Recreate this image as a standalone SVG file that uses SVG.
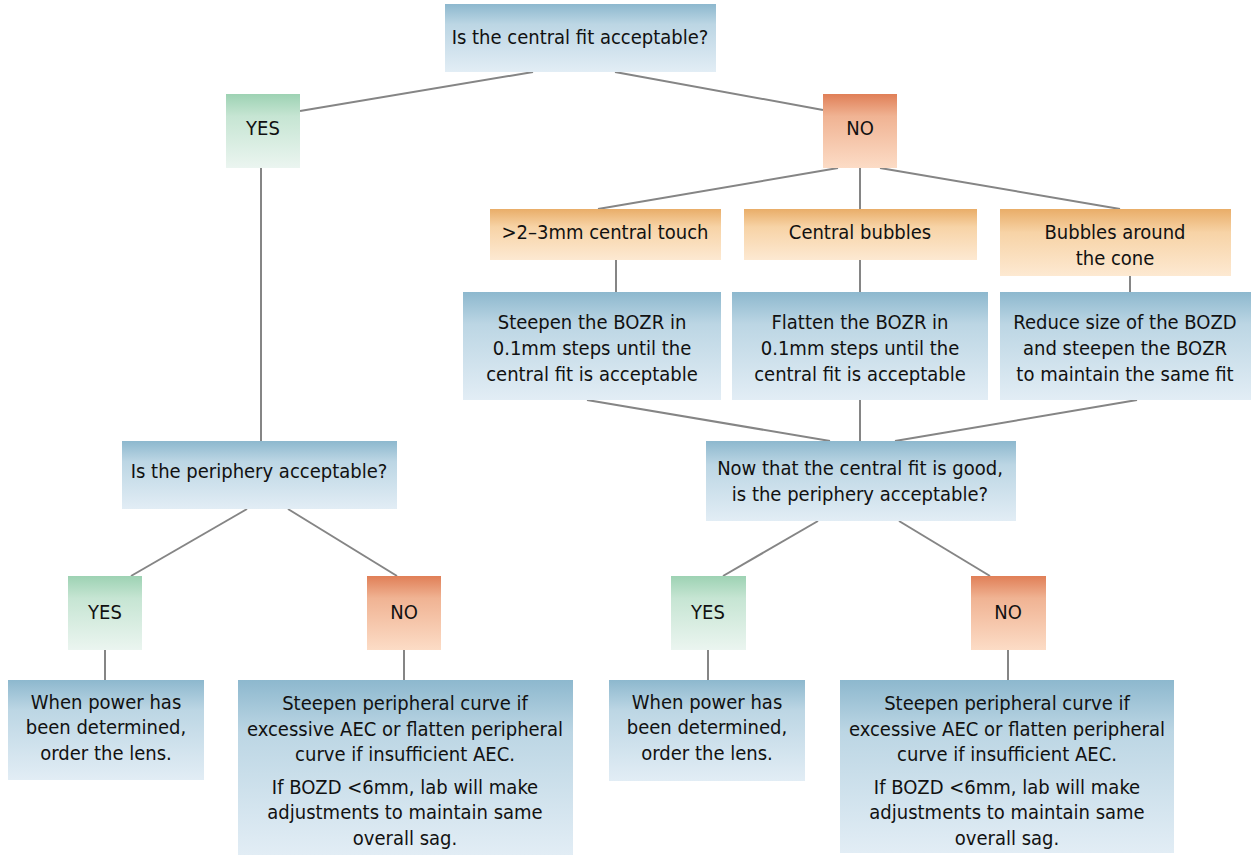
<svg xmlns="http://www.w3.org/2000/svg" width="1251" height="855" viewBox="0 0 1251 855">
<defs>
<linearGradient id="gBlue" x1="0" y1="0" x2="0" y2="1">
<stop offset="0" stop-color="#8db8ce"/><stop offset="0.3" stop-color="#bcd6e4"/><stop offset="1" stop-color="#e2edf5"/>
</linearGradient>
<linearGradient id="gOrange" x1="0" y1="0" x2="0" y2="1">
<stop offset="0" stop-color="#e9ad68"/><stop offset="0.35" stop-color="#f7d3a6"/><stop offset="1" stop-color="#fde9d2"/>
</linearGradient>
<linearGradient id="gRed" x1="0" y1="0" x2="0" y2="1">
<stop offset="0" stop-color="#e07f57"/><stop offset="0.3" stop-color="#f0b393"/><stop offset="1" stop-color="#fcdcc6"/>
</linearGradient>
<linearGradient id="gGreen" x1="0" y1="0" x2="0" y2="1">
<stop offset="0" stop-color="#9dd2b3"/><stop offset="0.3" stop-color="#c6e5d3"/><stop offset="1" stop-color="#ebf5f0"/>
</linearGradient>
</defs>
<style>
text{font-family:"Liberation Sans Narrow","DejaVu Sans Condensed","Arial Narrow",sans-serif;font-size:20px;fill:#111111;text-anchor:middle}
.blue{fill:url(#gBlue)}
.orange{fill:url(#gOrange)}
.red{fill:url(#gRed)}
.green{fill:url(#gGreen)}
#connectors line{stroke:#858585;stroke-width:2}
</style>
<rect width="1251" height="855" fill="#ffffff"/>
<g id="connectors">
<line x1="533" y1="72" x2="300" y2="111"/>
<line x1="615" y1="72" x2="823" y2="110"/>
<line x1="261" y1="168" x2="261" y2="441"/>
<line x1="838" y1="168" x2="598" y2="209"/>
<line x1="860" y1="168" x2="860" y2="209"/>
<line x1="880" y1="168" x2="1120" y2="209"/>
<line x1="616" y1="260" x2="616" y2="292"/>
<line x1="860" y1="260" x2="860" y2="292"/>
<line x1="1130" y1="276" x2="1130" y2="292"/>
<line x1="587" y1="400" x2="830" y2="441"/>
<line x1="860" y1="400" x2="860" y2="441"/>
<line x1="1137" y1="400" x2="895" y2="441"/>
<line x1="818" y1="521" x2="723" y2="576"/>
<line x1="899" y1="521" x2="990" y2="576"/>
<line x1="708" y1="650" x2="708" y2="680"/>
<line x1="1008" y1="650" x2="1008" y2="680"/>
<line x1="247" y1="509" x2="131" y2="576"/>
<line x1="288" y1="509" x2="397" y2="576"/>
<line x1="105" y1="650" x2="105" y2="680"/>
<line x1="404" y1="650" x2="404" y2="680"/>
</g>
<g id="q-central"><rect class="blue" x="445" y="4" width="271" height="68"/><text x="580" y="44">Is the central fit acceptable?</text></g>
<g id="yes-top"><rect class="green" x="226" y="94" width="74" height="74"/><text x="263" y="135">YES</text></g>
<g id="no-top"><rect class="red" x="823" y="94" width="74" height="74"/><text x="860" y="135">NO</text></g>
<g id="touch"><rect class="orange" x="490" y="209" width="231" height="51"/><text x="605" y="239">&gt;2–3mm central touch</text></g>
<g id="bubbles"><rect class="orange" x="744" y="209" width="233" height="51"/><text x="860" y="239">Central bubbles</text></g>
<g id="cone"><rect class="orange" x="1000" y="209" width="231" height="67"/><text x="1115" y="239">Bubbles around</text><text x="1115" y="265">the cone</text></g>
<g id="steepen-bozr"><rect class="blue" x="463" y="292" width="258" height="108"/><text x="592" y="329">Steepen the BOZR in</text><text x="592" y="355">0.1mm steps until the</text><text x="592" y="381">central fit is acceptable</text></g>
<g id="flatten-bozr"><rect class="blue" x="732" y="292" width="256" height="108"/><text x="860" y="329">Flatten the BOZR in</text><text x="860" y="355">0.1mm steps until the</text><text x="860" y="381">central fit is acceptable</text></g>
<g id="reduce-bozd"><rect class="blue" x="1000" y="292" width="251" height="108"/><text x="1125" y="329">Reduce size of the BOZD</text><text x="1125" y="355">and steepen the BOZR</text><text x="1125" y="381">to maintain the same fit</text></g>
<g id="q-periphery"><rect class="blue" x="122" y="441" width="275" height="68"/><text x="259" y="478">Is the periphery acceptable?</text></g>
<g id="q-now"><rect class="blue" x="706" y="441" width="310" height="80"/><text x="860" y="475">Now that the central fit is good,</text><text x="860" y="501">is the periphery acceptable?</text></g>
<g id="yes-left"><rect class="green" x="68" y="576" width="74" height="74"/><text x="105" y="619">YES</text></g>
<g id="no-left"><rect class="red" x="367" y="576" width="74" height="74"/><text x="404" y="619">NO</text></g>
<g id="yes-right"><rect class="green" x="671" y="576" width="75" height="74"/><text x="708" y="619">YES</text></g>
<g id="no-right"><rect class="red" x="971" y="576" width="75" height="74"/><text x="1008" y="619">NO</text></g>
<g id="order-left"><rect class="blue" x="8" y="680" width="196" height="100"/><text x="106" y="709">When power has</text><text x="106" y="734">been determined,</text><text x="106" y="760">order the lens.</text></g>
<g id="adjust-left"><rect class="blue" x="238" y="680" width="335" height="175"/><text x="405" y="710">Steepen peripheral curve if</text><text x="405" y="736">excessive AEC or flatten peripheral</text><text x="405" y="761">curve if insufficient AEC.</text><text x="405" y="794">If BOZD &lt;6mm, lab will make</text><text x="405" y="819">adjustments to maintain same</text><text x="405" y="845">overall sag.</text></g>
<g id="order-right"><rect class="blue" x="609" y="680" width="196" height="101"/><text x="707" y="709">When power has</text><text x="707" y="734">been determined,</text><text x="707" y="760">order the lens.</text></g>
<g id="adjust-right"><rect class="blue" x="840" y="680" width="334" height="173"/><text x="1007" y="710">Steepen peripheral curve if</text><text x="1007" y="736">excessive AEC or flatten peripheral</text><text x="1007" y="761">curve if insufficient AEC.</text><text x="1007" y="794">If BOZD &lt;6mm, lab will make</text><text x="1007" y="819">adjustments to maintain same</text><text x="1007" y="845">overall sag.</text></g>
</svg>
